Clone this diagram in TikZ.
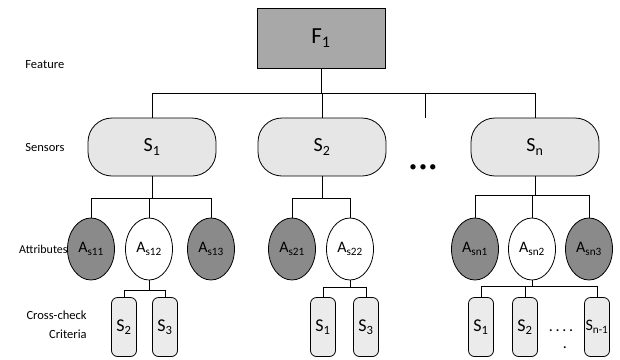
\documentclass[tikz,border=0pt]{standalone}
\usepackage{fontspec}
\setmainfont{Carlito}
\usetikzlibrary{shapes.geometric}
\definecolor{featgray}{HTML}{A8A8A8}
\definecolor{sensgray}{HTML}{E6E6E6}
\definecolor{attrgray}{HTML}{8A8A8A}
\definecolor{critgray}{HTML}{EBEBEB}
\begin{document}
\begin{tikzpicture}[x=1pt, y=-1pt, line width=0.8pt,
	featbox/.style={draw, fill=featgray, minimum width=128pt, minimum height=60pt, inner sep=0pt, font=\fontsize{23}{23}\selectfont},
	sensbox/.style={draw, fill=sensgray, rounded corners=24pt, minimum width=128pt, minimum height=58pt, inner sep=0pt, font=\fontsize{20}{20}\selectfont},
	attrdark/.style={draw, ellipse, fill=attrgray, minimum width=47pt, minimum height=62pt, inner sep=0pt, font=\fontsize{16}{16}\selectfont},
	attrlight/.style={attrdark, fill=white},
	critbox/.style={draw, fill=critgray, rounded corners=6pt, minimum width=25pt, minimum height=59pt, inner sep=0pt, font=\fontsize{18}{18}\selectfont},
	rowlabel/.style={anchor=west, inner sep=0pt, font=\fontsize{12.5}{19}\selectfont}]
	\useasboundingbox (0,0) rectangle (620,359);
	
	%Row labels
	\node[rowlabel] (lfeat) at (25,65) {Feature};
	\node[rowlabel] (lsens) at (25,147) {Sensors};
	\node[rowlabel, anchor=east, font=\fontsize{12}{12}\selectfont] (lattr) at (68,249) {Attributes};
	\node[rowlabel, anchor=east, align=right] (lcrit) at (87,325) {Cross-check\\Criteria};
	
	%Feature
	\node[featbox] (F1) at (321,38) {F\textsubscript{1}};
	
	%Sensors
	\node[sensbox] (S1) at (152,147) {S\textsubscript{1}};
	\node[sensbox] (S2) at (322,147) {S\textsubscript{2}};
	\node[sensbox] (Sn) at (535,147) {S\textsubscript{n}};
	\node (sdots) at (423,168) {\fontsize{15}{15}\selectfont\textbullet\,\textbullet\,\textbullet};
	\coordinate (smid) at (425,118);
	
	\draw (F1.south) -- ++(0,25) coordinate (fbus);
	\draw (S1.north) |- (fbus) -| (Sn.north);
	\draw (S2.north) -- (S2.north |- fbus);
	\draw (smid) -- (smid |- fbus);
	
	%Attributes of S_1
	\node[attrdark] (A11) at (91,249) {A\textsubscript{s11}};
	\node[attrlight] (A12) at (149,249) {A\textsubscript{s12}};
	\node[attrdark] (A13) at (211,249) {A\textsubscript{s13}};
	\draw (S1.south) -- ++(0,22) coordinate (bus1);
	\draw (A11.north) |- (bus1) -| (A13.north);
	\draw (A12.north) -- (A12.north |- bus1);
	
	%Attributes of S_2
	\node[attrdark] (A21) at (292,249) {A\textsubscript{s21}};
	\node[attrlight] (A22) at (350,249) {A\textsubscript{s22}};
	\draw (S2.south) -- ++(0,22) coordinate (bus2);
	\draw (A21.north) |- (bus2) -| (A22.north);
	
	%Attributes of S_n
	\node[attrdark] (An1) at (475,249) {A\textsubscript{sn1}};
	\node[attrlight] (An2) at (532,249) {A\textsubscript{sn2}};
	\node[attrdark] (An3) at (589,249) {A\textsubscript{sn3}};
	\draw (Sn.south) -- ++(0,19) coordinate (busn);
	\draw (An1.north) |- (busn) -| (An3.north);
	\draw (An2.north) -- (An2.north |- busn);
	
	%Cross-check criteria
	\node[critbox] (C121) at (124,327) {S\textsubscript{2}};
	\node[critbox] (C122) at (165,327) {S\textsubscript{3}};
	\draw (A12.south) -- ++(0,10) coordinate (cbus1);
	\draw (C121.north) |- (cbus1) -| (C122.north);
	
	\node[critbox] (C221) at (323,327) {S\textsubscript{1}};
	\node[critbox] (C222) at (366,327) {S\textsubscript{3}};
	\draw (A22.south) -- ++(0,7) coordinate (cbus2);
	\draw (C221.north) |- (cbus2) -| (C222.north);
	
	\node[critbox] (Cn21) at (481,327) {S\textsubscript{1}};
	\node[critbox] (Cn22) at (525,327) {S\textsubscript{2}};
	\node[critbox, font=\fontsize{16}{16}\selectfont] (Cn2m) at (597,327) {S\textsubscript{n-1}};
	\draw (An2.south) -- ++(0,6) coordinate (cbusn);
	\draw (Cn21.north) |- (cbusn) -| (Cn2m.north);
	\draw (Cn22.north) -- (Cn22.north |- cbusn);
	\node (cdots) at (561,331) {\fontsize{16}{16}\selectfont.\,.\,.\,.};
	\node (cdot) at (565,348) {\fontsize{16}{16}\selectfont.};
\end{tikzpicture}
\end{document}
